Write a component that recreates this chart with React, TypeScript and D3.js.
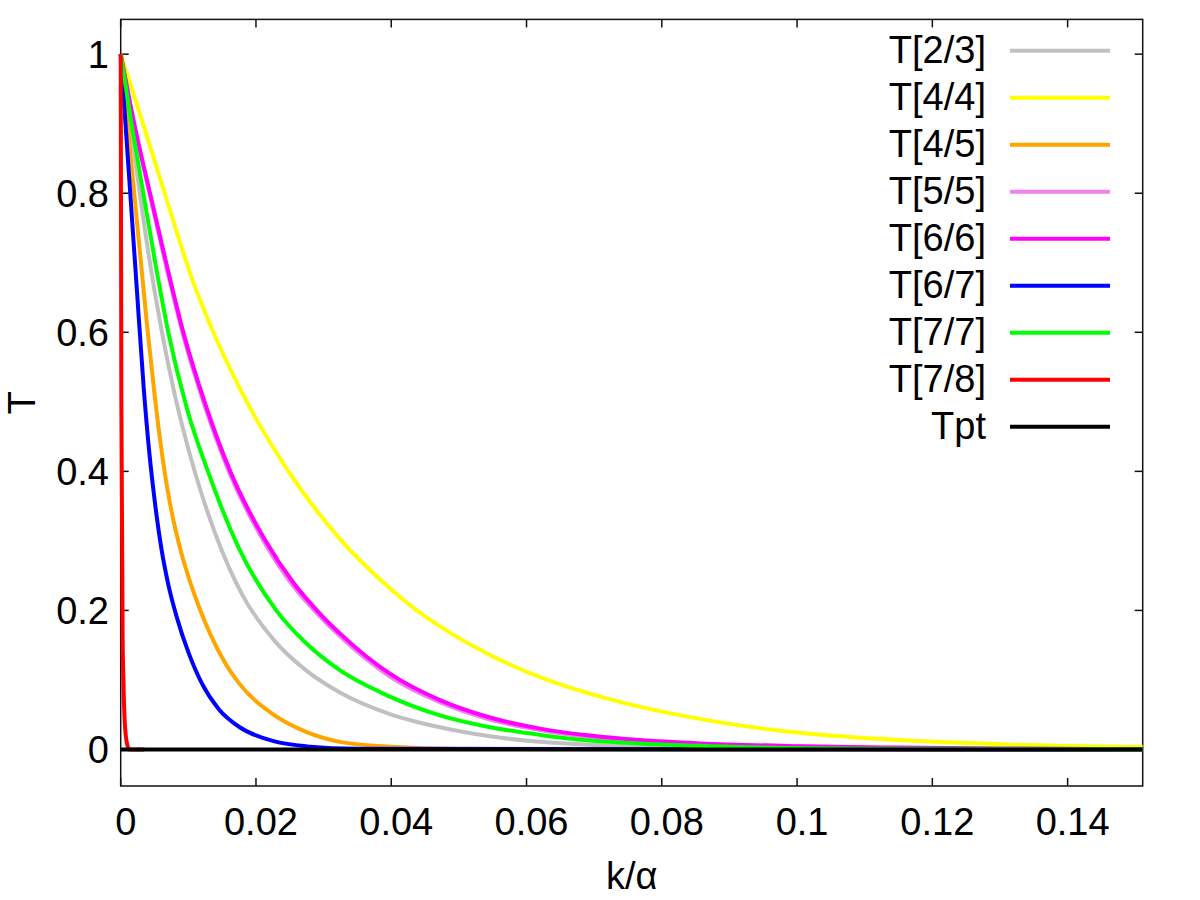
import React, { useRef, useEffect } from 'react';
import * as d3 from 'd3';

type Pt = [number, number];

// series: [k/alpha, T]
const t23: Pt[] = [
  [0, 1], [0.002, 0.858], [0.004, 0.72], [0.006, 0.605], [0.008, 0.51],
  [0.011, 0.398], [0.014, 0.31], [0.018, 0.222], [0.0226, 0.158], [0.0275, 0.113],
  [0.0324, 0.082], [0.0398, 0.051], [0.0472, 0.032], [0.0546, 0.019], [0.062, 0.011],
  [0.07, 0.0065], [0.08, 0.0035], [0.1, 0.001], [0.1511, 0],
];
const t44: Pt[] = [
  [0, 1], [0.0033, 0.9], [0.0065, 0.8], [0.0108, 0.67], [0.0137, 0.6],
  [0.018, 0.512], [0.0248, 0.4], [0.0324, 0.303], [0.0398, 0.232], [0.0438, 0.2],
  [0.0472, 0.177], [0.0546, 0.136], [0.062, 0.104], [0.0709, 0.076], [0.0856, 0.044],
  [0.1004, 0.024], [0.115, 0.0135], [0.13, 0.0076], [0.1511, 0.0038],
];
const t45: Pt[] = [
  [0, 1], [0.002, 0.8], [0.0039, 0.61], [0.0049, 0.52], [0.0059, 0.44],
  [0.0069, 0.375], [0.0079, 0.325], [0.0089, 0.285], [0.0099, 0.252], [0.0115, 0.207],
  [0.0154, 0.125], [0.0176, 0.094], [0.0226, 0.05], [0.0275, 0.025], [0.0324, 0.011],
  [0.0398, 0.004], [0.05, 0.001], [0.1511, 0],
];
const t55: Pt[] = [
  [0, 1], [0.002, 0.898], [0.00433, 0.797], [0.0068, 0.692], [0.00926, 0.595],
  [0.0125, 0.492], [0.0162, 0.395], [0.0213, 0.297], [0.0256, 0.234], [0.0293, 0.193],
  [0.0324, 0.163], [0.0398, 0.105], [0.0472, 0.068], [0.0546, 0.043], [0.062, 0.028],
  [0.0694, 0.018], [0.0768, 0.0122], [0.0856, 0.0078], [0.1004, 0.0042], [0.115, 0.0023],
  [0.13, 0.0012], [0.1511, 0.0004],
];
const t66: Pt[] = [
  [0, 1], [0.002, 0.9], [0.00433, 0.8], [0.0068, 0.697], [0.00926, 0.6],
  [0.0125, 0.497], [0.0162, 0.4], [0.0213, 0.302], [0.0256, 0.239], [0.0293, 0.197],
  [0.0324, 0.167], [0.0398, 0.109], [0.0472, 0.071], [0.0546, 0.046], [0.062, 0.03],
  [0.0694, 0.02], [0.0768, 0.0135], [0.0856, 0.0088], [0.1004, 0.0048], [0.115, 0.0027],
  [0.13, 0.0015], [0.1511, 0.0006],
];
const t67: Pt[] = [
  [0, 1], [0.0012, 0.83], [0.0024, 0.66], [0.0034, 0.52], [0.0042, 0.43],
  [0.005, 0.36], [0.006, 0.29], [0.007, 0.239], [0.0083, 0.19], [0.01, 0.14],
  [0.012, 0.095], [0.0145, 0.058], [0.0176, 0.032], [0.0226, 0.012], [0.0275, 0.0045],
  [0.035, 0.001], [0.1511, 0],
];
const t77: Pt[] = [
  [0, 1], [0.0016, 0.9], [0.00334, 0.8], [0.0052, 0.695], [0.00704, 0.6],
  [0.0098, 0.49], [0.0129, 0.4], [0.0175, 0.289], [0.023, 0.2], [0.0275, 0.152],
  [0.0324, 0.114], [0.0398, 0.076], [0.0472, 0.049], [0.0546, 0.032], [0.062, 0.021],
  [0.0694, 0.013], [0.0768, 0.0085], [0.09, 0.004], [0.11, 0.0012], [0.1511, 0],
];
const t78: Pt[] = [
  [0, 1], [0.0001, 0.5], [0.0003, 0.15], [0.0004, 0.1], [0.0006, 0.04],
  [0.0009, 0.01], [0.0013, 0], [0.0035, 0],
];
const tpt: Pt[] = [[0, 0], [0.1511, 0]];

const seriesNames = ['T[2/3]', 'T[4/4]', 'T[4/5]', 'T[5/5]', 'T[6/6]', 'T[6/7]', 'T[7/7]', 'T[7/8]', 'Tpt'];
const seriesData = [t23, t44, t45, t55, t66, t67, t77, t78, tpt];
const seriesColors = ['#c0c0c0', '#ffff00', '#ffa500', '#ee82ee', '#ff00ff', '#0000ff', '#00ff00', '#ff0000', '#000000'];

const xTicks = [0, 0.02, 0.04, 0.06, 0.08, 0.1, 0.12, 0.14];
const yTicks = [0, 0.2, 0.4, 0.6, 0.8, 1];

const FONT = '"Liberation Sans", Arial, sans-serif';

const App: React.FC = () => {
  const svgRef = useRef<SVGSVGElement | null>(null);

  useEffect(() => {
    const svg = d3.select(svgRef.current);
    svg.selectAll('*').remove();

    const frame = { left: 120.7, right: 1142.7, top: 19.4, bottom: 786 };
    const x = d3.scaleLinear().domain([0, 0.1511]).range([frame.left, frame.right]);
    const y = d3.scaleLinear().domain([-0.0525, 1.05]).range([frame.bottom, frame.top]);
    const fmt = d3.format('~g');
    const tickLen = 8;

    svg.append('rect').attr('width', 1200).attr('height', 900).attr('fill', '#fff');

    // border
    svg
      .append('rect')
      .attr('x', frame.left)
      .attr('y', frame.top)
      .attr('width', frame.right - frame.left)
      .attr('height', frame.bottom - frame.top)
      .attr('fill', 'none')
      .attr('stroke', '#111')
      .attr('stroke-width', 1.5);

    // ticks, mirrored on all four sides
    const ticks = svg.append('g').attr('stroke', '#111').attr('stroke-width', 1.5);
    xTicks.forEach((t) => {
      ticks.append('line').attr('x1', x(t)).attr('x2', x(t)).attr('y1', frame.bottom).attr('y2', frame.bottom - tickLen);
      ticks.append('line').attr('x1', x(t)).attr('x2', x(t)).attr('y1', frame.top).attr('y2', frame.top + tickLen);
    });
    yTicks.forEach((t) => {
      ticks.append('line').attr('x1', frame.left).attr('x2', frame.left + tickLen).attr('y1', y(t)).attr('y2', y(t));
      ticks.append('line').attr('x1', frame.right).attr('x2', frame.right - tickLen).attr('y1', y(t)).attr('y2', y(t));
    });

    const labels = svg.append('g').style('font-family', FONT).style('font-size', '38px').attr('fill', '#000');

    labels
      .selectAll('text.xt')
      .data(xTicks)
      .enter()
      .append('text')
      .attr('class', 'xt')
      .attr('x', (d) => x(d) + 5)
      .attr('y', 835)
      .attr('text-anchor', 'middle')
      .text((d) => fmt(d));

    labels
      .selectAll('text.yt')
      .data(yTicks)
      .enter()
      .append('text')
      .attr('class', 'yt')
      .attr('x', 109)
      .attr('y', (d) => y(d) + 13.5)
      .attr('text-anchor', 'end')
      .text((d) => fmt(d));

    labels
      .append('text')
      .attr('x', (frame.left + frame.right) / 2)
      .attr('y', 889)
      .attr('text-anchor', 'middle')
      .text('k/α');

    labels
      .append('text')
      .attr('transform', `translate(35,${(frame.top + frame.bottom) / 2}) rotate(-90)`)
      .attr('text-anchor', 'middle')
      .text('T');

    // curves, drawn in legend order so Tpt ends up on top
    const line = d3
      .line<Pt>()
      .curve(d3.curveMonotoneX)
      .x((d) => x(d[0]))
      .y((d) => y(d[1]));

    svg
      .append('g')
      .selectAll('path')
      .data(seriesData)
      .enter()
      .append('path')
      .attr('d', (d) => line(d))
      .attr('fill', 'none')
      .attr('stroke', (d, i) => seriesColors[i])
      .attr('stroke-width', 4)
      .attr('stroke-linejoin', 'round');

    // legend
    const legend = svg.append('g');
    seriesNames.forEach((name, i) => {
      const rowY = 50.7 + i * 47;
      legend
        .append('text')
        .attr('x', 986)
        .attr('y', rowY + 12.5)
        .attr('text-anchor', 'end')
        .style('font-family', FONT)
        .style('font-size', '38px')
        .text(name);
      legend
        .append('line')
        .attr('x1', 1010)
        .attr('x2', 1110)
        .attr('y1', rowY)
        .attr('y2', rowY)
        .attr('stroke', seriesColors[i])
        .attr('stroke-width', 4);
    });
  }, []);

  return (
    <svg
      ref={svgRef}
      width={1200}
      height={900}
      style={{ position: 'absolute', left: 0, top: 0 }}
    ></svg>
  );
};

export default App;
